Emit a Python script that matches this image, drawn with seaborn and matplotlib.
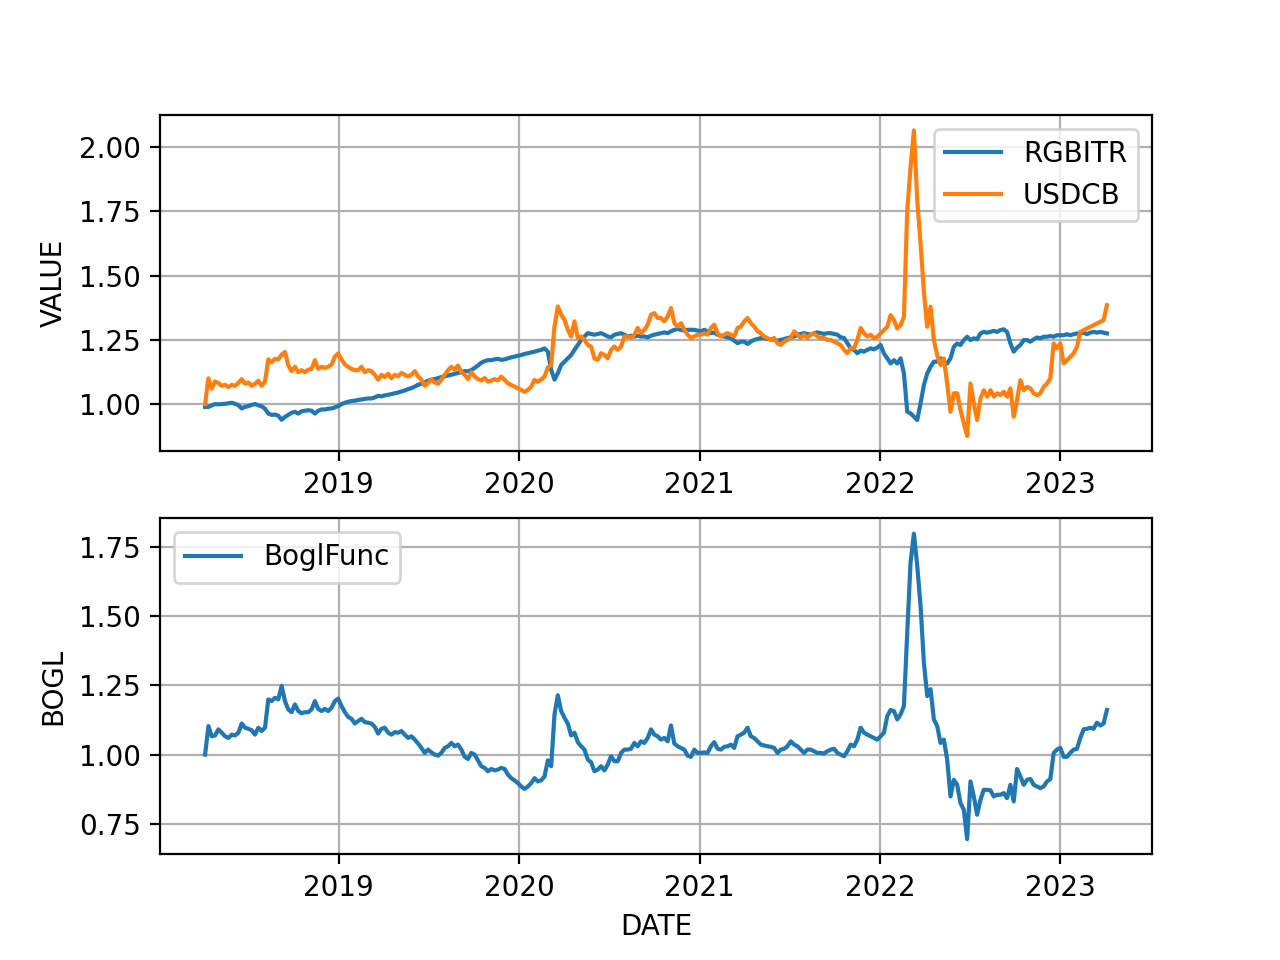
import matplotlib
matplotlib.use("Agg")
import matplotlib.pyplot as plt
import seaborn as sns
import pandas as pd
import numpy as np

start_date = "2018-04-05"
end_date = "2023-04-06"

rgbitr = [
    0.989, 0.989, 0.995, 1.000, 0.999, 1.000, 1.001, 1.003, 1.005, 1.001,
    0.996, 0.983, 0.989, 0.992, 0.997, 1.000, 0.995, 0.991, 0.982, 0.963,
    0.958, 0.959, 0.955, 0.939, 0.950, 0.958, 0.966, 0.970, 0.963, 0.972,
    0.974, 0.976, 0.974, 0.963, 0.974, 0.979, 0.979, 0.982, 0.983, 0.987,
    0.992, 1.000, 1.005, 1.009, 1.012, 1.013, 1.016, 1.018, 1.020, 1.022,
    1.022, 1.026, 1.032, 1.030, 1.034, 1.036, 1.039, 1.042, 1.045, 1.049,
    1.053, 1.058, 1.062, 1.068, 1.075, 1.079, 1.084, 1.091, 1.095, 1.097,
    1.101, 1.105, 1.108, 1.111, 1.114, 1.118, 1.121, 1.125, 1.128, 1.128,
    1.132, 1.141, 1.150, 1.161, 1.167, 1.171, 1.171, 1.174, 1.176,
    1.172, 1.174, 1.178, 1.182, 1.185, 1.188, 1.191, 1.195, 1.198, 1.201,
    1.204, 1.208, 1.211, 1.217, 1.204, 1.133, 1.095, 1.120, 1.152, 1.165,
    1.178, 1.191, 1.211, 1.230, 1.250, 1.263, 1.276, 1.273, 1.270, 1.273,
    1.276, 1.270, 1.263, 1.260, 1.270, 1.273, 1.276, 1.270, 1.263, 1.266,
    1.263, 1.266, 1.263, 1.263, 1.260, 1.266, 1.270, 1.273, 1.276, 1.279,
    1.276, 1.283, 1.289, 1.292, 1.289, 1.286, 1.289, 1.289, 1.289, 1.286,
    1.283, 1.289, 1.283, 1.276, 1.279, 1.270, 1.266, 1.263, 1.260, 1.257,
    1.247, 1.237, 1.243, 1.243, 1.234, 1.243, 1.250, 1.253, 1.257, 1.257,
    1.253, 1.253, 1.250, 1.247, 1.250, 1.253, 1.257, 1.260, 1.263, 1.270,
    1.273, 1.276, 1.273, 1.270, 1.276, 1.279, 1.276, 1.273, 1.276, 1.276,
    1.273, 1.270, 1.260, 1.257, 1.237, 1.217, 1.211, 1.198, 1.208, 1.204,
    1.211, 1.217,
    1.213, 1.220, 1.230, 1.197, 1.178, 1.158, 1.171, 1.158, 1.178, 1.119,
    0.970, 0.964, 0.951, 0.938, 1.003, 1.074, 1.119, 1.145, 1.165, 1.165,
    1.178, 1.165, 1.158, 1.178, 1.223, 1.236, 1.230, 1.249, 1.262, 1.249,
    1.256, 1.252, 1.275, 1.281, 1.278, 1.281, 1.285, 1.281, 1.288, 1.291,
    1.281, 1.236, 1.204, 1.220, 1.230, 1.249, 1.249, 1.243, 1.252, 1.259,
    1.256, 1.262, 1.262, 1.265, 1.262, 1.268, 1.268, 1.268, 1.272, 1.268,
    1.272, 1.275, 1.275, 1.278, 1.272, 1.278, 1.281, 1.278, 1.281, 1.278,
    1.275,
]

usdcb = [
    1.000, 1.100, 1.060, 1.088, 1.082, 1.071, 1.075, 1.066, 1.075, 1.071,
    1.082, 1.097, 1.079, 1.084, 1.071, 1.079, 1.091, 1.071, 1.088, 1.174,
    1.163, 1.176, 1.174, 1.193, 1.203, 1.150, 1.128, 1.145, 1.124, 1.132,
    1.124, 1.134, 1.137, 1.171, 1.137, 1.145, 1.141, 1.145, 1.154, 1.184,
    1.197, 1.174, 1.154, 1.145, 1.137, 1.132, 1.132, 1.145, 1.124, 1.132,
    1.128, 1.114, 1.095, 1.114, 1.105, 1.118, 1.101, 1.114, 1.108, 1.121,
    1.114, 1.108, 1.114, 1.128, 1.108, 1.095, 1.071, 1.082, 1.095, 1.084,
    1.079, 1.095, 1.114, 1.132, 1.145, 1.134, 1.150, 1.124, 1.114, 1.097,
    1.124, 1.108, 1.097, 1.092, 1.101, 1.088, 1.091, 1.097, 1.092,
    1.107, 1.094, 1.081, 1.074, 1.068, 1.061, 1.055, 1.048, 1.055, 1.068,
    1.094, 1.087, 1.096, 1.107, 1.143, 1.152, 1.302, 1.380, 1.348, 1.328,
    1.289, 1.263, 1.322, 1.257, 1.263, 1.250, 1.230, 1.224, 1.178, 1.172,
    1.198, 1.191, 1.178, 1.211, 1.224, 1.211, 1.224, 1.263, 1.263, 1.257,
    1.270, 1.296, 1.276, 1.289, 1.309, 1.348, 1.354, 1.335, 1.335, 1.322,
    1.341, 1.374, 1.315, 1.302, 1.315, 1.289, 1.270, 1.257, 1.263, 1.270,
    1.270, 1.276, 1.270, 1.296, 1.309, 1.276, 1.263, 1.270, 1.276, 1.270,
    1.263, 1.296, 1.302, 1.322, 1.335, 1.315, 1.302, 1.283, 1.276, 1.263,
    1.257, 1.250, 1.257, 1.237, 1.230, 1.243, 1.250, 1.257, 1.283, 1.270,
    1.257, 1.270, 1.257, 1.270, 1.276, 1.263, 1.257, 1.257, 1.250, 1.250,
    1.243, 1.237, 1.230, 1.211, 1.198, 1.217, 1.217, 1.250, 1.296, 1.276,
    1.263, 1.270,
    1.256, 1.262, 1.275, 1.288, 1.301, 1.346, 1.327, 1.294, 1.307, 1.340,
    1.755, 1.923, 2.065, 1.794, 1.625, 1.437, 1.301, 1.379, 1.249, 1.191,
    1.152, 1.178, 1.080, 0.970, 1.042, 1.042, 0.977, 0.925, 0.876, 1.080,
    1.003, 0.938, 1.022, 1.054, 1.029, 1.054, 1.029, 1.042, 1.035, 1.048,
    1.029, 1.061, 0.951, 1.016, 1.093, 1.054, 1.067, 1.061, 1.042, 1.035,
    1.042, 1.067, 1.080, 1.100, 1.236, 1.217, 1.236, 1.158, 1.171, 1.184,
    1.197, 1.223, 1.281, 1.288, 1.294, 1.301, 1.307, 1.314, 1.320, 1.327,
    1.385,
]

bogl = [
    1.000, 1.103, 1.066, 1.069, 1.091, 1.079, 1.066, 1.060, 1.072, 1.069,
    1.079, 1.112, 1.097, 1.093, 1.088, 1.072, 1.097, 1.085, 1.097, 1.199,
    1.193, 1.205, 1.199, 1.248, 1.193, 1.163, 1.153, 1.181, 1.157, 1.149,
    1.153, 1.153, 1.163, 1.193, 1.165, 1.157, 1.165, 1.157, 1.169, 1.193,
    1.202, 1.175, 1.153, 1.136, 1.129, 1.112, 1.121, 1.129, 1.117, 1.115,
    1.112, 1.100, 1.076, 1.093, 1.097, 1.079, 1.072, 1.081, 1.079, 1.085,
    1.072, 1.060, 1.066, 1.054, 1.040, 1.024, 1.006, 1.018, 1.008, 1.000,
    0.996, 1.006, 1.024, 1.030, 1.042, 1.030, 1.036, 1.018, 0.992, 0.984,
    1.006, 1.000, 0.979, 0.958, 0.952, 0.940, 0.948, 0.943, 0.946,
    0.952, 0.948, 0.928, 0.915, 0.907, 0.897, 0.885, 0.876, 0.885, 0.897,
    0.915, 0.903, 0.907, 0.921, 0.979, 0.958, 1.145, 1.214, 1.157, 1.133,
    1.112, 1.069, 1.079, 1.045, 1.030, 1.018, 0.982, 0.972, 0.940, 0.946,
    0.958, 0.943, 0.964, 0.994, 0.976, 0.976, 1.006, 1.018, 1.018, 1.021,
    1.042, 1.030, 1.048, 1.042, 1.060, 1.091, 1.072, 1.066, 1.054, 1.060,
    1.048, 1.105, 1.040, 1.030, 1.024, 1.018, 0.996, 0.992, 1.018, 1.006,
    1.006, 1.008, 1.006, 1.030, 1.045, 1.021, 1.018, 1.028, 1.030, 1.036,
    1.024, 1.066, 1.072, 1.079, 1.097, 1.066, 1.060, 1.048, 1.036, 1.033,
    1.030, 1.028, 1.024, 1.006, 1.018, 1.021, 1.030, 1.048, 1.036, 1.030,
    1.018, 1.006, 1.018, 1.018, 1.012, 1.006, 1.006, 1.004, 1.012, 1.018,
    1.021, 1.006, 1.000, 0.994, 1.012, 1.036, 1.030, 1.054, 1.097, 1.079,
    1.072, 1.066,
    1.060, 1.054, 1.066, 1.079, 1.139, 1.161, 1.157, 1.127, 1.145, 1.175,
    1.441, 1.694, 1.797, 1.682, 1.537, 1.332, 1.211, 1.236, 1.127, 1.103,
    1.042, 1.054, 0.982, 0.849, 0.909, 0.891, 0.825, 0.801, 0.695, 0.903,
    0.849, 0.783, 0.837, 0.873, 0.873, 0.871, 0.849, 0.855, 0.855, 0.861,
    0.843, 0.891, 0.831, 0.948, 0.921, 0.891, 0.909, 0.912, 0.891, 0.885,
    0.879, 0.885, 0.903, 0.912, 1.006, 1.018, 1.024, 0.992, 0.992, 1.006,
    1.018, 1.021, 1.060, 1.091, 1.093, 1.097, 1.093, 1.115, 1.105, 1.112,
    1.161,
]

series_names = ["RGBITR", "USDCB", "BoglFunc"]


def make_frame(values):
    dates = pd.date_range(start_date, end_date, periods=len(values))
    return pd.DataFrame({"DATE": dates, "VALUE": values})


df_r = make_frame(rgbitr)
df_u = make_frame(usdcb)
df_b = make_frame(bogl)

fig, (ax1, ax2) = plt.subplots(2, 1, figsize=(6.4, 4.8), dpi=200)

sns.lineplot(data=df_r, x="DATE", y="VALUE", ax=ax1, label=series_names[0], color="#1f77b4")
sns.lineplot(data=df_u, x="DATE", y="VALUE", ax=ax1, label=series_names[1], color="#ff7f0e")
ax1.set_xlabel("")
ax1.set_ylabel("VALUE")
ax1.grid(True)
ax1.legend(loc="upper right")

sns.lineplot(data=df_b, x="DATE", y="VALUE", ax=ax2, label=series_names[2], color="#1f77b4")
ax2.set_xlabel("DATE")
ax2.set_ylabel("BOGL")
ax2.grid(True)
ax2.legend(loc="upper left")

fig.savefig("out.png", dpi=200)
